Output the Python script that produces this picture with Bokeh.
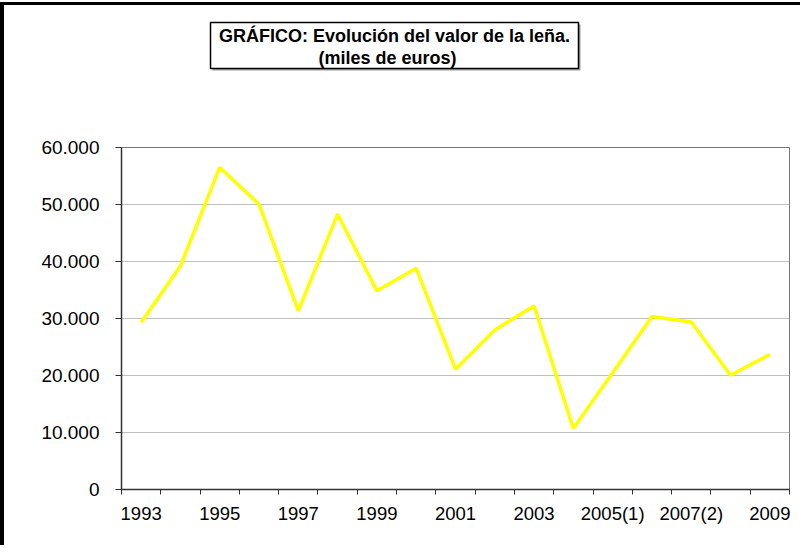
from bokeh.plotting import figure
from bokeh.models import Range1d, FixedTicker, ColumnDataSource, Label, BoxAnnotation, Spacer
from bokeh.layouts import column, row
from bokeh.embed import file_html
from bokeh.resources import INLINE

# ---- data ----
categories = ["1993", "1994", "1995", "1996", "1997", "1998", "1999", "2000",
              "2001", "2002", "2003", "2004", "2005(1)", "2006", "2007(2)",
              "2008", "2009"]
values = [29300, 39200, 56500, 50050, 31350, 48300, 34850, 38800,
          21100, 28000, 32200, 10700, 20500, 30350, 29400, 20050, 23700]
y_ticks = [0, 10000, 20000, 30000, 40000, 50000, 60000]
y_tick_labels = ["0", "10.000", "20.000", "30.000", "40.000", "50.000", "60.000"]
title_line1 = "GRÁFICO: Evolución del valor de la leña."
title_line2 = "(miles de euros)"

FONT = "Liberation Sans"
W = 796
TOP_H = 100
MAIN_H = 440
n = len(categories)
x_centers = [i + 0.5 for i in range(n)]
label_pos = [x_centers[i] for i in range(0, n, 2)]
label_txt = {x_centers[i]: categories[i] for i in range(0, n, 2)}

# ---- title area (own figure, pixel coordinates) ----
t = figure(width=W, height=TOP_H, output_backend="svg", toolbar_location=None,
           x_range=Range1d(0, W), y_range=Range1d(0, TOP_H),
           x_axis_type=None, y_axis_type=None, min_border=0)
t.frame_align = False
t.outline_line_color = None
t.xgrid.visible = False
t.ygrid.visible = False
t.background_fill_color = "white"
t.border_fill_color = "white"

shadow = BoxAnnotation(left=208, right=576, top=81, bottom=35,
                       fill_color="#a0a0a0", fill_alpha=1.0, line_color=None)
box = BoxAnnotation(left=206, right=574, top=83, bottom=37,
                    fill_color="white", fill_alpha=1.0,
                    line_color="black", line_width=1.5, line_alpha=1.0)
t.add_layout(shadow)
t.add_layout(box)
t.add_layout(Label(x=390, y=70, text=title_line1, text_align="center",
                   text_baseline="middle", text_font=FONT, text_font_size="18px",
                   text_font_style="bold", text_color="black"))
t.add_layout(Label(x=383, y=48, text=title_line2, text_align="center",
                   text_baseline="middle", text_font=FONT, text_font_size="18px",
                   text_font_style="bold", text_color="black"))

# ---- main chart ----
p = figure(width=W, height=MAIN_H, output_backend="svg", toolbar_location=None,
           x_range=Range1d(0, n), y_range=Range1d(0, 60000),
           min_border_left=117, min_border_right=11,
           min_border_top=42, min_border_bottom=56)
p.frame_align = False

src = ColumnDataSource(dict(x=x_centers, y=values, cat=categories))
p.line("x", "y", source=src, line_color="#FFFF00", line_width=3.5)

p.xaxis.ticker = FixedTicker(ticks=label_pos, minor_ticks=list(range(n + 1)))
p.xaxis.major_label_overrides = label_txt
p.xaxis.major_tick_out = 0
p.xaxis.major_tick_in = 0
p.xaxis.minor_tick_out = 5
p.xaxis.minor_tick_in = 0
p.xaxis.minor_tick_line_color = "#333333"
p.xaxis.major_label_standoff = 8

p.yaxis.ticker = FixedTicker(ticks=y_ticks)
p.yaxis.major_label_overrides = {tk: lb for tk, lb in zip(y_ticks, y_tick_labels)}
p.yaxis.major_tick_out = 6
p.yaxis.major_tick_in = 0
p.yaxis.minor_tick_line_color = None
p.yaxis.major_label_standoff = 16

for ax in (p.xaxis[0], p.yaxis[0]):
    ax.axis_line_color = "#333333"
    ax.axis_line_width = 1.5
    ax.major_tick_line_color = "#333333"
    ax.major_label_text_font = FONT
    ax.major_label_text_color = "#000000"
p.xaxis.major_label_text_font_size = "18.5px"
p.yaxis.major_label_text_font_size = "19px"

p.xgrid.grid_line_color = None
p.ygrid.grid_line_color = "#c0c0c0"
p.ygrid.ticker = FixedTicker(ticks=y_ticks)

p.outline_line_color = "#777777"
p.outline_line_width = 1
p.background_fill_color = "white"
p.border_fill_color = "white"

# ---- outer black border (left and top edges of the chart sheet) ----
gap_top = Spacer(width=W, height=2)
bar_top = Spacer(width=W, height=3, styles={"background-color": "black"})
gap_left = Spacer(width=4, height=2)
bar_left = Spacer(width=4, height=543, styles={"background-color": "black"})

left_col = column(gap_left, bar_left, spacing=0)
right_col = column(gap_top, bar_top, t, p, spacing=0)
layout = row(left_col, right_col, spacing=0)

open("out.html", "w").write(file_html(layout, INLINE))
